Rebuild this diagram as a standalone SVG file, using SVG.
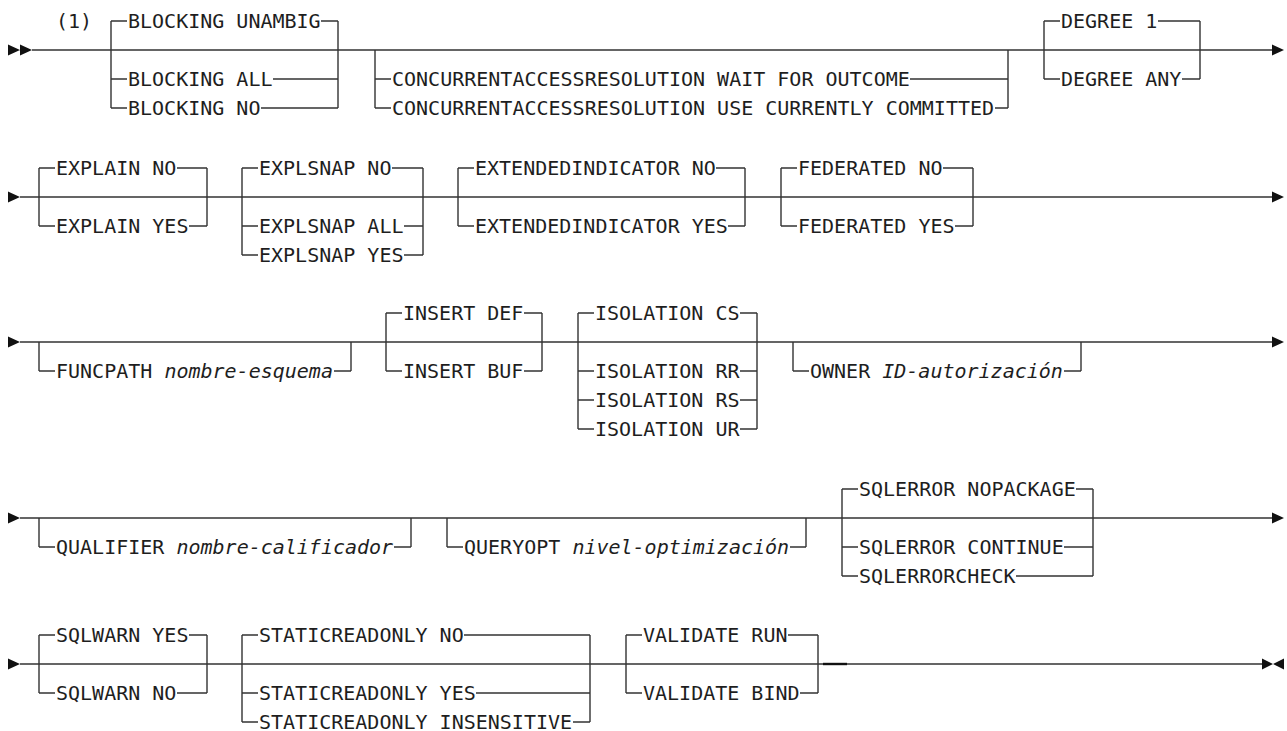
<svg xmlns="http://www.w3.org/2000/svg" width="1287" height="731" viewBox="0 0 1287 731">
<style>
.t{font-family:"DejaVu Sans Mono","Liberation Mono",monospace;font-size:20px;fill:#1e1e1e}
.v{font-style:italic}
.l{stroke:#333;stroke-width:1.4;fill:none}
.a{fill:#111}
</style>
<rect width="1287" height="731" fill="#fff"/>
<g id="connectors">
<path class="l" d="M32 50H1273M20 197H1273M20 342H1273M20 518H1273M20 664H1262"/>
<path class="l" d="M823 664H847" style="stroke-width:2.4;stroke:#111"/>
<path class="a" d="M8 44.5L20 50L8 55.5ZM20 44.5L32 50L20 55.5Z"/>
<path class="a" d="M1272 44.5L1284 50L1272 55.5Z"/>
<path class="a" d="M8 191.5L20 197L8 202.5ZM1272 191.5L1284 197L1272 202.5Z"/>
<path class="a" d="M8 336.5L20 342L8 347.5ZM1272 336.5L1284 342L1272 347.5Z"/>
<path class="a" d="M8 512.5L20 518L8 523.5ZM1272 512.5L1284 518L1272 523.5Z"/>
<path class="a" d="M8 658.5L20 664L8 669.5ZM1262 658.5L1273 664L1262 669.5ZM1284 658.5L1273 664L1284 669.5Z"/>
</g>
<g id="note"><text class="t" x="56" y="28">(1)</text></g>
<g id="blocking">
<path class="l" d="M111 21V108M338 21V108M111 21H127M321 21H338M111 79H127M273 79H338M111 108H127M261 108H338"/>
<text class="t" x="128" y="28.3">BLOCKING UNAMBIG</text>
<text class="t" x="128" y="86.3">BLOCKING ALL</text>
<text class="t" x="128" y="115.3">BLOCKING NO</text>
</g>
<g id="concurrent">
<path class="l" d="M375 50V108M1008 50V108M375 79H391M910 79H1008M375 108H391M995 108H1008"/>
<text class="t" x="392" y="86.3">CONCURRENTACCESSRESOLUTION WAIT FOR OUTCOME</text>
<text class="t" x="392" y="115.3">CONCURRENTACCESSRESOLUTION USE CURRENTLY COMMITTED</text>
</g>
<g id="degree">
<path class="l" d="M1044 21V79M1200 21V79M1044 21H1060M1158 21H1200M1044 79H1060M1182 79H1200"/>
<text class="t" x="1061" y="28.3">DEGREE 1</text>
<text class="t" x="1061" y="86.3">DEGREE ANY</text>
</g>
<g id="explain">
<path class="l" d="M39 168V226M207 168V226M39 168H55M177 168H207M39 226H55M189 226H207"/>
<text class="t" x="56" y="175.3">EXPLAIN NO</text>
<text class="t" x="56" y="233.3">EXPLAIN YES</text>
</g>
<g id="explsnap">
<path class="l" d="M242 168V255M423 168V255M242 168H258M392 168H423M242 226H258M404 226H423M242 255H258M404 255H423"/>
<text class="t" x="259" y="175.3">EXPLSNAP NO</text>
<text class="t" x="259" y="233.3">EXPLSNAP ALL</text>
<text class="t" x="259" y="262.3">EXPLSNAP YES</text>
</g>
<g id="extendedindicator">
<path class="l" d="M458 168V226M745 168V226M458 168H474M716 168H745M458 226H474M728 226H745"/>
<text class="t" x="475" y="175.3">EXTENDEDINDICATOR NO</text>
<text class="t" x="475" y="233.3">EXTENDEDINDICATOR YES</text>
</g>
<g id="federated">
<path class="l" d="M781 168V226M973 168V226M781 168H797M943 168H973M781 226H797M955 226H973"/>
<text class="t" x="798" y="175.3">FEDERATED NO</text>
<text class="t" x="798" y="233.3">FEDERATED YES</text>
</g>
<g id="funcpath">
<path class="l" d="M39 342V371M351 342V371M39 371H55M334 371H351"/>
<text class="t" x="56" y="378.3">FUNCPATH <tspan class="v">nombre-esquema</tspan></text>
</g>
<g id="insert">
<path class="l" d="M386 313V371M542 313V371M386 313H402M524 313H542M386 371H402M524 371H542"/>
<text class="t" x="403" y="320.3">INSERT DEF</text>
<text class="t" x="403" y="378.3">INSERT BUF</text>
</g>
<g id="isolation">
<path class="l" d="M578 313V429M757 313V429M578 313H594M740 313H757M578 371H594M740 371H757M578 400H594M740 400H757M578 429H594M740 429H757"/>
<text class="t" x="595" y="320.3">ISOLATION CS</text>
<text class="t" x="595" y="378.3">ISOLATION RR</text>
<text class="t" x="595" y="407.3">ISOLATION RS</text>
<text class="t" x="595" y="436.3">ISOLATION UR</text>
</g>
<g id="owner">
<path class="l" d="M793 342V371M1081 342V371M793 371H809M1064 371H1081"/>
<text class="t" x="810" y="378.3">OWNER <tspan class="v">ID-autorización</tspan></text>
</g>
<g id="qualifier">
<path class="l" d="M39 518V547M411 518V547M39 547H55M394 547H411"/>
<text class="t" x="56" y="554.3">QUALIFIER <tspan class="v">nombre-calificador</tspan></text>
</g>
<g id="queryopt">
<path class="l" d="M447 518V547M806 518V547M447 547H463M790 547H806"/>
<text class="t" x="464" y="554.3">QUERYOPT <tspan class="v">nivel-optimización</tspan></text>
</g>
<g id="sqlerror">
<path class="l" d="M842 489V576M1093 489V576M842 489H858M1076 489H1093M842 547H858M1064 547H1093M842 576H858M1016 576H1093"/>
<text class="t" x="859" y="496.3">SQLERROR NOPACKAGE</text>
<text class="t" x="859" y="554.3">SQLERROR CONTINUE</text>
<text class="t" x="859" y="583.3">SQLERRORCHECK</text>
</g>
<g id="sqlwarn">
<path class="l" d="M39 635V693M207 635V693M39 635H55M189 635H207M39 693H55M177 693H207"/>
<text class="t" x="56" y="642.3">SQLWARN YES</text>
<text class="t" x="56" y="700.3">SQLWARN NO</text>
</g>
<g id="staticreadonly">
<path class="l" d="M242 635V722M590 635V722M242 635H258M464 635H590M242 693H258M476 693H590M242 722H258M573 722H590"/>
<text class="t" x="259" y="642.3">STATICREADONLY NO</text>
<text class="t" x="259" y="700.3">STATICREADONLY YES</text>
<text class="t" x="259" y="729.3">STATICREADONLY INSENSITIVE</text>
</g>
<g id="validate">
<path class="l" d="M626 635V693M818 635V693M626 635H642M788 635H818M626 693H642M800 693H818"/>
<text class="t" x="643" y="642.3">VALIDATE RUN</text>
<text class="t" x="643" y="700.3">VALIDATE BIND</text>
</g>
</svg>
